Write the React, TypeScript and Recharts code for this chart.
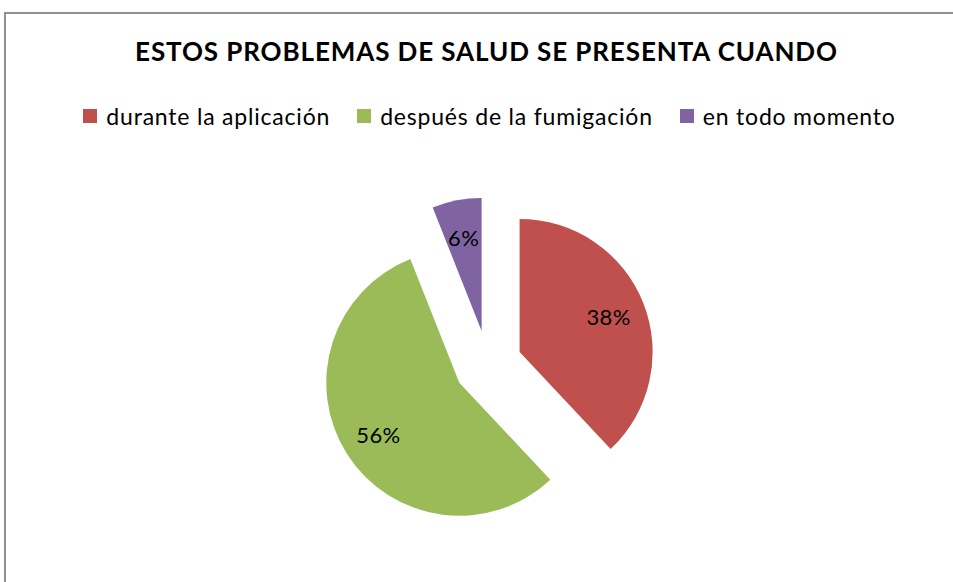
import React from "react";
import { PieChart, Pie, Cell, Legend, Sector } from "recharts";

const categories = ["durante la aplicación", "después de la fumigación", "en todo momento"];
const values = [38, 56, 6];
const colors = ["#C0504D", "#9BBB59", "#8064A2"];
const title = "ESTOS PROBLEMAS DE SALUD SE PRESENTA CUANDO";

const data = categories.map((name, i) => ({ name, value: values[i] }));

const FONT = "Lato, 'Open Sans', sans-serif";
const RAD = Math.PI / 180;
const EXPLODE = 34;

const renderSlice = (props: any) => {
  const { cx, cy, midAngle, outerRadius, startAngle, endAngle, percent, index } = props;
  const ox = cx + EXPLODE * Math.cos(-midAngle * RAD);
  const oy = cy + EXPLODE * Math.sin(-midAngle * RAD);
  const lr = outerRadius * 0.72;
  const lx = ox + lr * Math.cos(-midAngle * RAD);
  const ly = oy + lr * Math.sin(-midAngle * RAD);
  return (
    <g key={`slice-${index}`}>
      <Sector
        cx={ox}
        cy={oy}
        innerRadius={0}
        outerRadius={outerRadius}
        startAngle={startAngle}
        endAngle={endAngle}
        fill={colors[index]}
        stroke="none"
      />
      <text
        x={lx}
        y={ly}
        textAnchor="middle"
        dominantBaseline="central"
        fill="#000"
        style={{ fontFamily: FONT, fontSize: 22, letterSpacing: 0.4 }}
      >
        {`${Math.round(percent * 100)}%`}
      </text>
    </g>
  );
};

const renderLegend = () => {
  return (
    <div style={{ height: 0, overflow: "visible" }}>
      <div
        style={{
          display: "flex",
          justifyContent: "center",
          gap: 27,
          fontFamily: FONT,
          fontSize: 23,
          letterSpacing: 0.8,
          color: "#000",
          lineHeight: "28px",
        }}
      >
        {categories.map((name, i) => (
          <div key={i} style={{ display: "flex", alignItems: "center", whiteSpace: "nowrap" }}>
            <span
              style={{
                display: "inline-block",
                width: 14,
                height: 14,
                background: colors[i],
                marginRight: 9,
              }}
            />
            <span>{name}</span>
          </div>
        ))}
      </div>
    </div>
  );
};

export default function App() {
  return (
    <div
      style={{
        position: "fixed",
        left: 0,
        top: 0,
        width: 953,
        height: 582,
        overflow: "hidden",
        background: "#fff",
      }}
    >
      <div
        style={{
          position: "absolute",
          left: 4,
          top: 12,
          width: 1000,
          height: 700,
          border: "2px solid #8f8f8f",
          boxSizing: "border-box",
        }}
      />
      <div
        style={{
          position: "absolute",
          left: 0,
          top: 35,
          width: 973,
          textAlign: "center",
          fontFamily: FONT,
          fontWeight: 700,
          fontSize: 26,
          letterSpacing: 0.9,
          color: "#000",
          lineHeight: "32px",
          whiteSpace: "nowrap",
        }}
      >
        {title}
      </div>
      <div style={{ position: "absolute", left: 0, top: 0 }}>
        <PieChart width={953} height={582} margin={{ top: 0, right: 0, bottom: 0, left: 0 }}>
          <Legend
            content={renderLegend}
            verticalAlign="top"
            wrapperStyle={{ top: 102, left: 0, width: 979 }}
          />
          <Pie
            data={data}
            dataKey="value"
            nameKey="name"
            cx={488}
            cy={364.5}
            outerRadius={133}
            startAngle={90}
            endAngle={-270}
            stroke="none"
            label={renderSlice}
            labelLine={false}
            isAnimationActive={false}
          >
            {data.map((_, i) => (
              <Cell key={i} fill="transparent" stroke="none" />
            ))}
          </Pie>
        </PieChart>
      </div>
    </div>
  );
}
